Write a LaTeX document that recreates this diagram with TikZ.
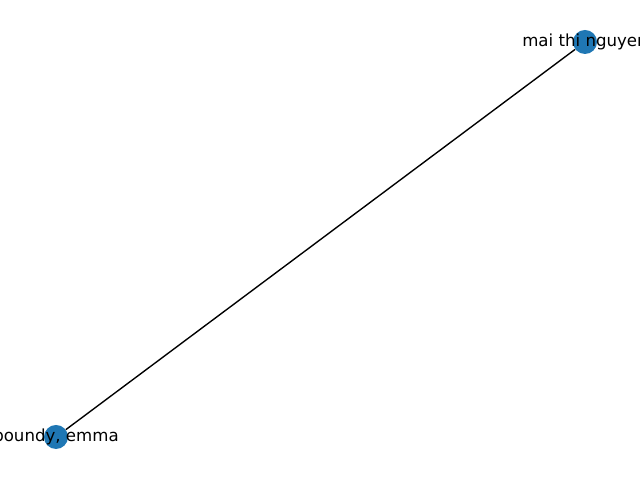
\documentclass[tikz,border=0pt]{standalone}
\usepackage{fontspec}
\setmainfont{DejaVu Sans}
\usepackage{xcolor}
\usepackage{tikz}
\definecolor{nodeblue}{HTML}{1F77B4}

\begin{document}
\begin{tikzpicture}[
  x=0.01in, y=0.01in,
  person/.style={circle, fill=nodeblue, minimum size=0.24in, inner sep=0pt},
  personlabel/.style={font=\fontsize{12}{14}\selectfont, inner sep=0pt},
  link/.style={draw=black, line width=1pt}
]
  \useasboundingbox (0,0) rectangle (640,480);
  \clip (0,0) rectangle (640,480);

  \node[person] (mai) at (585,438) {};
  \node[person] (boundy) at (56,43) {};

  \draw[link] (mai) -- (boundy);

  \node[personlabel] (mainame) at (mai) {mai thi nguyen};
  \node[personlabel] (boundyname) at (boundy) {boundy, emma};
\end{tikzpicture}
\end{document}
